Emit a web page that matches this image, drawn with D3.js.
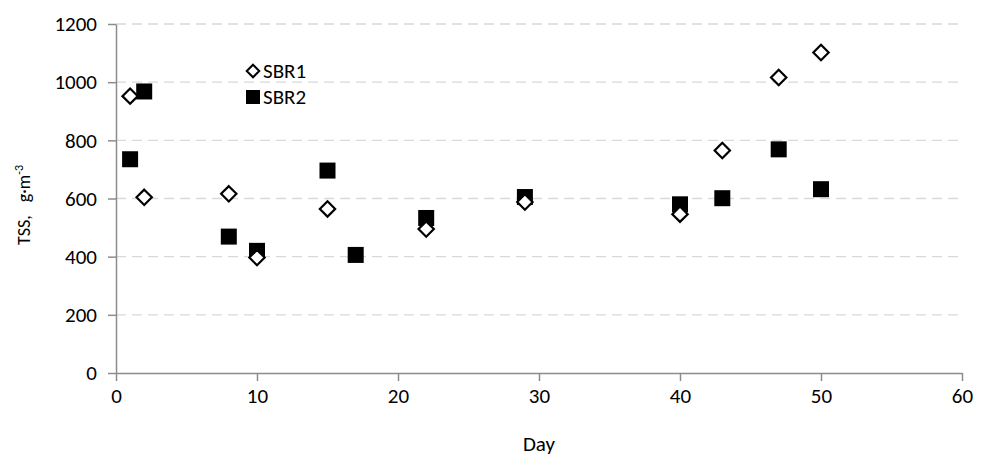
<!DOCTYPE html>
<html>
<head>
<meta charset="utf-8">
<script src="https://cdn.jsdelivr.net/npm/d3@7"></script>
<style>
  body { margin: 0; background: #fff; }
  text { font-family: Calibri, Carlito, "Open Sans", sans-serif; fill: #000; }
</style>
</head>
<body>
<div id="chart"></div>
<script>
// Data
var days1 = [1, 2, 8, 10, 15, 22, 29, 40, 43, 47, 50];
var sbr1 = [952, 604, 616, 397, 564, 495, 588, 546, 765, 1016, 1102];
var days2 = [1, 2, 8, 10, 15, 17, 22, 29, 40, 43, 47, 50];
var sbr2 = [735, 968, 469, 420, 696, 406, 533, 605, 580, 601, 769, 632];
var xTicks = [0, 10, 20, 30, 40, 50, 60];
var yTicks = [0, 200, 400, 600, 800, 1000, 1200];
var seriesNames = ["SBR1", "SBR2"];

var W = 986, H = 459;
var margin = { top: 24, right: 24, bottom: 86, left: 116 };
var width = W - margin.left - margin.right,
  height = H - margin.top - margin.bottom;

var svg = d3.select("#chart").append("svg")
  .attr("width", W).attr("height", H);
var g = svg.append("g")
  .attr("transform", "translate(" + margin.left + "," + margin.top + ")");

var x = d3.scaleLinear().domain([0, 60]).range([0, width]);
var y = d3.scaleLinear().domain([0, 1200]).range([height, 0]);

// dashed gridlines
g.append("g").selectAll("line")
  .data(yTicks.filter(function (d) { return d > 0; }))
  .join("line")
  .attr("x1", 0).attr("x2", width)
  .attr("y1", function (d) { return y(d); })
  .attr("y2", function (d) { return y(d); })
  .attr("stroke", "#d9d9d9")
  .attr("stroke-width", 1.3)
  .attr("stroke-dasharray", "10,6");

// axes
var fmt = d3.format("d");
var xAxis = g.append("g")
  .attr("transform", "translate(0," + height + ")")
  .call(d3.axisBottom(x).tickValues(xTicks).tickFormat(fmt).tickSize(8).tickSizeOuter(0).tickPadding(7));
var yAxis = g.append("g")
  .call(d3.axisLeft(y).tickValues(yTicks).tickFormat(fmt).tickSize(8).tickSizeOuter(0).tickPadding(11));

[xAxis, yAxis].forEach(function (a) {
  a.select(".domain").attr("stroke", "#8c8c8c").attr("stroke-width", 1.5);
  a.selectAll(".tick line").attr("stroke", "#8c8c8c").attr("stroke-width", 1.5);
  a.selectAll(".tick text").style("font-size", "21px")
    .style("font-family", "Calibri, Carlito, 'Open Sans', sans-serif").attr("fill", "#000");
});

// axis titles
g.append("text")
  .attr("x", x(30)).attr("y", 451 - margin.top)
  .attr("text-anchor", "middle")
  .style("font-size", "21px")
  .text("Day");

var yl = svg.append("text")
  .attr("transform", "translate(30,205) rotate(-90)")
  .attr("text-anchor", "middle")
  .style("font-size", "18px");
yl.append("tspan").text("TSS,\u2002 g\u00b7m");
yl.append("tspan").attr("dy", -7).style("font-size", "12px").text("-3");

// markers
var diamond = d3.symbol().type(d3.symbolDiamond2);
var sq = 16;

g.append("g").selectAll("rect")
  .data(days2.map(function (d, i) { return [d, sbr2[i]]; }))
  .join("rect")
  .attr("x", function (d) { return x(d[0]) - sq / 2; })
  .attr("y", function (d) { return y(d[1]) - sq / 2; })
  .attr("width", sq).attr("height", sq)
  .attr("fill", "#000");

g.append("g").selectAll("path")
  .data(days1.map(function (d, i) { return [d, sbr1[i]]; }))
  .join("path")
  .attr("d", diamond.size(150))
  .attr("transform", function (d) { return "translate(" + x(d[0]) + "," + y(d[1]) + ")"; })
  .attr("fill", "#fff")
  .attr("stroke", "#000")
  .attr("stroke-width", 2.2);

// legend
var leg = svg.append("g").attr("transform", "translate(253,71)");
leg.append("path")
  .attr("d", d3.symbol().type(d3.symbolDiamond2).size(100)())
  .attr("fill", "#fff").attr("stroke", "#000").attr("stroke-width", 2);
leg.append("rect")
  .attr("x", -7).attr("y", 26 - 7).attr("width", 14).attr("height", 14)
  .attr("fill", "#000");
leg.selectAll("text.lab")
  .data(seriesNames)
  .join("text")
  .attr("class", "lab")
  .attr("x", 10)
  .attr("y", function (d, i) { return i * 26 + 7; })
  .style("font-size", "21px")
  .text(function (d) { return d; });
</script>
</body>
</html>
